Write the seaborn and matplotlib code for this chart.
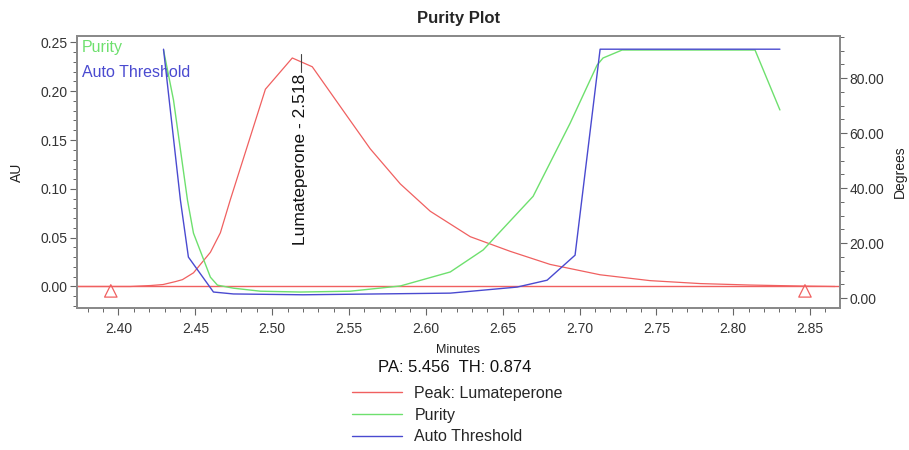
import seaborn as sns
import matplotlib.pyplot as plt
import matplotlib.ticker as mticker
import pandas as pd

# Peak trace (AU, left axis)
peak_min = [2.373, 2.4078, 2.421, 2.429, 2.437, 2.4416, 2.4488, 2.4598, 2.4663, 2.4728,
            2.4956, 2.5131, 2.5261, 2.5476, 2.5638, 2.5834, 2.6029, 2.6289,
            2.6549, 2.6809, 2.7134, 2.7459, 2.7784, 2.8109, 2.8434, 2.8662]
peak_au = [0.0, 0.0, 0.001, 0.002, 0.005, 0.007, 0.014, 0.035, 0.055, 0.089,
           0.202, 0.234, 0.225, 0.177, 0.141, 0.105, 0.077, 0.051,
           0.036, 0.0226, 0.012, 0.006, 0.003, 0.0015, 0.0005, 0.0]

# Purity angle (degrees, right axis)
purity_min = [2.4293, 2.4358, 2.4449, 2.4488, 2.4598, 2.4644, 2.4748, 2.4923, 2.5183,
              2.5508, 2.5834, 2.6159, 2.6373, 2.6698, 2.6939, 2.7114, 2.7153, 2.7277,
              2.8142, 2.8304]
purity_deg = [90.2, 72.0, 35.6, 23.6, 7.6, 4.7, 3.6, 2.5, 2.2,
              2.5, 4.4, 9.5, 17.5, 37.0, 63.6, 84.7, 87.3, 90.2,
              90.2, 68.4]

# Auto threshold (degrees, right axis)
thresh_min = [2.4293, 2.4403, 2.4455, 2.4618, 2.4748, 2.52, 2.6159, 2.6594, 2.6789,
              2.6971, 2.7134, 2.8304]
thresh_deg = [90.5, 35.6, 14.9, 2.2, 1.5, 1.2, 1.8, 4.0, 6.5, 15.6, 90.5, 90.5]

# peak start / end markers
marker_min = [2.395, 2.8467]
marker_au = [-0.0045, -0.0045]

RED = "#f06060"
GREEN = "#6ee06e"
BLUE = "#4a4ad0"

sns.set_style("white")
plt.rcParams['font.family'] = ['Liberation Sans', 'DejaVu Sans']

fig = plt.figure(figsize=(9.09, 4.5), dpi=100)
ax = fig.add_axes([0.0847, 0.3156, 0.8394, 0.6044])
ax2 = ax.twinx()

peak_df = pd.DataFrame({'min': peak_min, 'au': peak_au})
pur_df = pd.DataFrame({'min': purity_min, 'deg': purity_deg})
th_df = pd.DataFrame({'min': thresh_min, 'deg': thresh_deg})

ax.axhline(0, color=RED, lw=1.0)
sns.lineplot(data=peak_df, x='min', y='au', ax=ax, color=RED, lw=0.9, sort=False)
ax.scatter(marker_min, marker_au, marker='^', s=80, facecolors='none',
           edgecolors=RED, linewidths=0.9, zorder=5)
sns.lineplot(data=pur_df, x='min', y='deg', ax=ax2, color=GREEN, lw=1.0, sort=False)
sns.lineplot(data=th_df, x='min', y='deg', ax=ax2, color=BLUE, lw=1.0, sort=False)

ax.set_xlim(2.373, 2.8695)
ax.set_ylim(-0.022, 0.2565)
ax2.set_ylim(-3.6, 95.3)

# peak label
ax.text(2.5185, 0.043, "Lumateperone - 2.518", rotation=90, ha='center', va='bottom',
        fontsize=12.5, color='#111111')
ax.plot([2.5185, 2.5185], [0.22, 0.238], color='#444444', lw=0.8)

ax.xaxis.set_major_locator(mticker.MultipleLocator(0.05))
ax.xaxis.set_minor_locator(mticker.MultipleLocator(0.01))
ax.yaxis.set_major_locator(mticker.MultipleLocator(0.05))
ax.yaxis.set_minor_locator(mticker.MultipleLocator(0.01))
ax.xaxis.set_major_formatter(mticker.FormatStrFormatter('%.2f'))
ax.yaxis.set_major_formatter(mticker.FormatStrFormatter('%.2f'))
ax2.yaxis.set_major_locator(mticker.MultipleLocator(20))
ax2.yaxis.set_minor_locator(mticker.MultipleLocator(5))
ax2.yaxis.set_major_formatter(mticker.FormatStrFormatter('%.2f'))

for a in (ax, ax2):
    a.tick_params(which='major', direction='out', length=5, width=0.8,
                  color='#666666', labelsize=10, labelcolor='#333333', pad=2)
    a.tick_params(which='minor', direction='out', length=3, width=0.7, color='#666666')
    for s in a.spines.values():
        s.set_color('#8a8a8a')
        s.set_linewidth(1.4)
ax.tick_params(axis='x', which='both', bottom=True, pad=5)
ax.tick_params(axis='y', which='both', left=True)
ax2.tick_params(axis='y', which='both', right=True)

ax.set_xlabel("Minutes", fontsize=9, color='#222222', labelpad=6)
ax.set_ylabel("AU", fontsize=10, color='#222222', labelpad=12)
ax2.set_ylabel("Degrees", fontsize=10, color='#222222', labelpad=6)
ax.set_title("Purity Plot", fontsize=12, fontweight='bold', pad=9)

# in-plot legend of angle traces
ax.text(0.006, 0.957, "Purity", transform=ax.transAxes, color=GREEN, fontsize=11.5, va='center')
ax.text(0.006, 0.866, "Auto Threshold", transform=ax.transAxes, color=BLUE, fontsize=11.5, va='center')

fig.text(378 / 909, 1 - 368 / 450, "PA: 5.456  TH: 0.874", fontsize=12, va='center', color='#111111')

handles = [plt.Line2D([], [], color=RED, lw=1.0),
           plt.Line2D([], [], color=GREEN, lw=1.0),
           plt.Line2D([], [], color=BLUE, lw=1.0)]
fig.legend(handles, ["Peak: Lumateperone", "Purity", "Auto Threshold"],
           loc='upper left', bbox_to_anchor=(352 / 909, 1 - 386 / 450), frameon=False,
           fontsize=11.5, handlelength=3.1, handletextpad=0.8, labelspacing=0.42,
           borderpad=0, borderaxespad=0)

fig.savefig("out.png", dpi=100)
